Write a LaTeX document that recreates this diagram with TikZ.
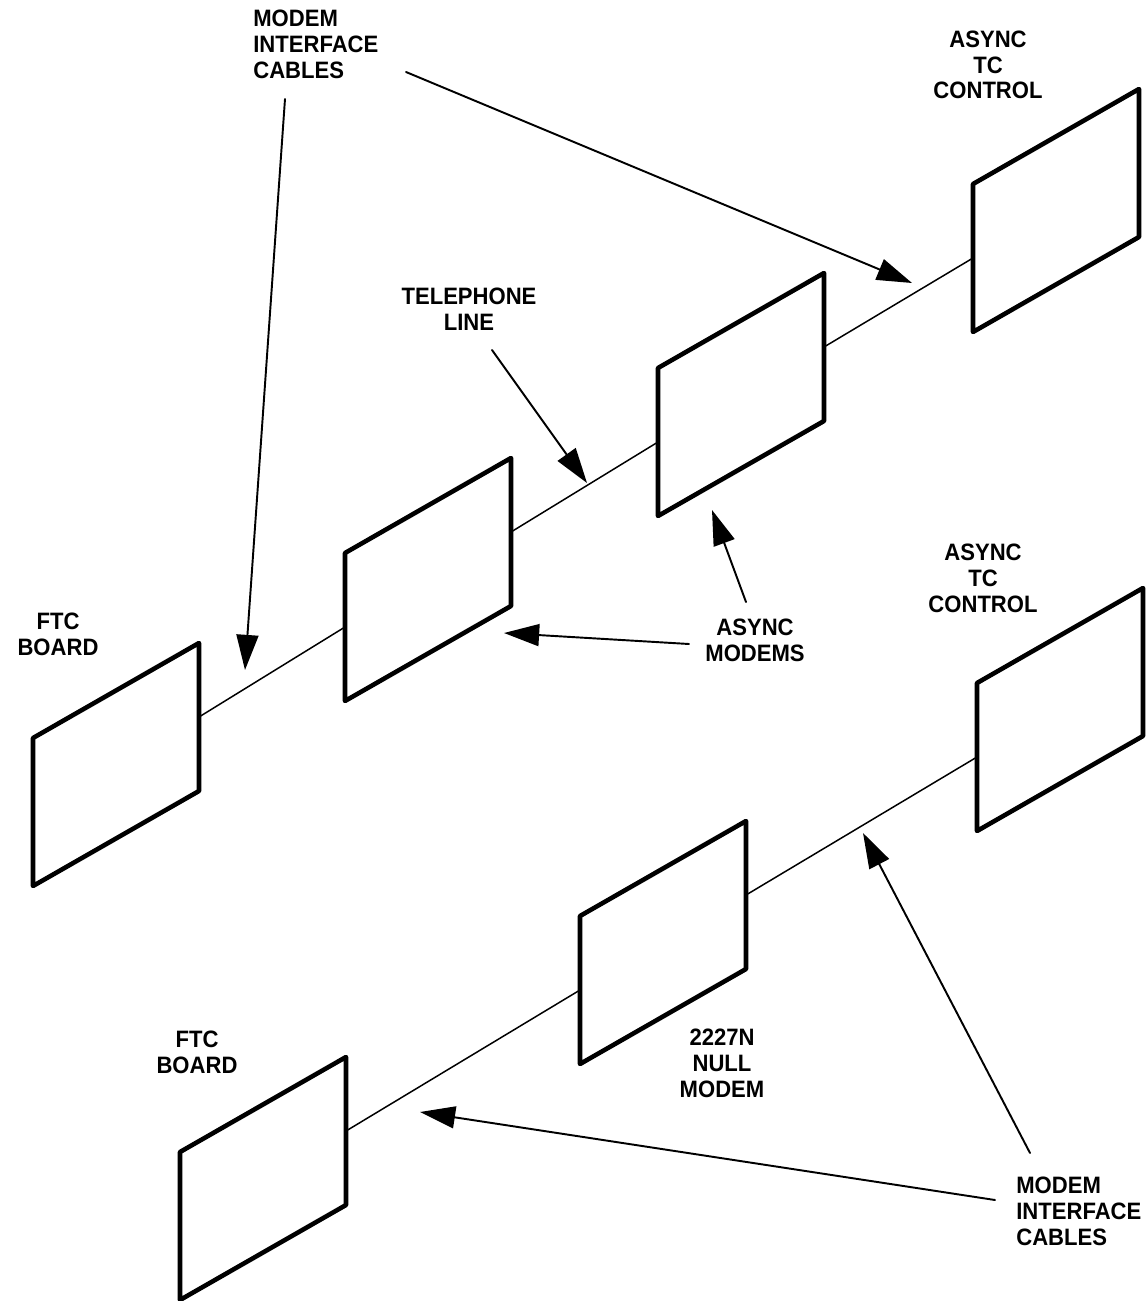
\documentclass[tikz,border=0pt]{standalone}
\usepackage{fontspec}
\setmainfont{Liberation Sans}[FakeStretch=0.93]
\usetikzlibrary{arrows.meta}

\tikzset{
  panelline/.style={line width=2.6pt,line join=round},
  cable/.style={line width=.85pt},
  pointer/.style={line width=1.1pt,-{Triangle[length=20pt,width=12.5pt]}},
  lbl/.style={font=\fontsize{13.5}{14.7}\selectfont\bfseries,inner sep=0pt,align=center},
  lblleft/.style={lbl,align=left,anchor=north west},
  panel/.pic={
    \draw[panelline] (0,0) -- (166,-95) -- (166,53) -- (0,148) -- cycle;
    \coordinate (-w) at (0,74);
    \coordinate (-e) at (166,-21);
  }
}

\begin{document}
\begin{tikzpicture}[x=.02cm,y=-.02cm,line cap=round]
  \useasboundingbox (0,0) rectangle (1147,1301);

  % upper link: FTC board -- modem -- telephone line -- modem -- TC control
  \pic (ftcA) at (33,738) {panel};
  \pic (modA) at (345,553) {panel};
  \pic (modB) at (658,368) {panel};
  \pic (tcA) at (973,184) {panel};
  \draw[cable] (ftcA-e) -- (modA-w);
  \draw[cable] (modA-e) -- (modB-w);
  \draw[cable] (modB-e) -- (tcA-w);

  % lower link: FTC board -- null modem -- TC control
  \pic (ftcB) at (180,1152) {panel};
  \pic (nullB) at (580,916) {panel};
  \pic (tcB) at (977,683) {panel};
  \draw[cable] (ftcB-e) -- (nullB-w);
  \draw[cable] (nullB-e) -- (tcB-w);

  % labels
  \node[lblleft] (cablesA) at (253,10) {MODEM\\INTERFACE\\CABLES};
  \node[lbl] (tcAtext) at (988,65) {ASYNC\\TC\\CONTROL};
  \node[lbl] (phone) at (469,309) {TELEPHONE\\LINE};
  \node[lbl] (ftcAtext) at (58,634) {FTC\\BOARD};
  \node[lbl] (modems) at (755,640) {ASYNC\\MODEMS};
  \node[lbl] (tcBtext) at (983,578) {ASYNC\\TC\\CONTROL};
  \node[lbl] (ftcBtext) at (197,1052) {FTC\\BOARD};
  \node[lbl] (nulltext) at (722,1063) {2227N\\NULL\\MODEM};
  \node[lblleft] (cablesB) at (1016,1177) {MODEM\\INTERFACE\\CABLES};

  % pointer ends
  \coordinate (cA1) at (285,99);
  \coordinate (cA2) at (406,72);
  \coordinate (ph) at (492,350);
  \coordinate (md1) at (689,644);
  \coordinate (md2) at (746,602);
  \coordinate (cB1) at (1030,1153);
  \coordinate (cB2) at (995,1200);

  \coordinate (cA1t) at (245,670);
  \coordinate (cA2t) at (912,283);
  \coordinate (pht) at (587,483);
  \coordinate (md1t) at (504,633);
  \coordinate (md2t) at (712,510);
  \coordinate (cB1t) at (863,833);
  \coordinate (cB2t) at (420,1112);

  \draw[pointer] (cA1) -- (cA1t);
  \draw[pointer] (cA2) -- (cA2t);
  \draw[pointer] (ph) -- (pht);
  \draw[pointer] (md1) -- (md1t);
  \draw[pointer] (md2) -- (md2t);
  \draw[pointer] (cB1) -- (cB1t);
  \draw[pointer] (cB2) -- (cB2t);
\end{tikzpicture}
\end{document}
